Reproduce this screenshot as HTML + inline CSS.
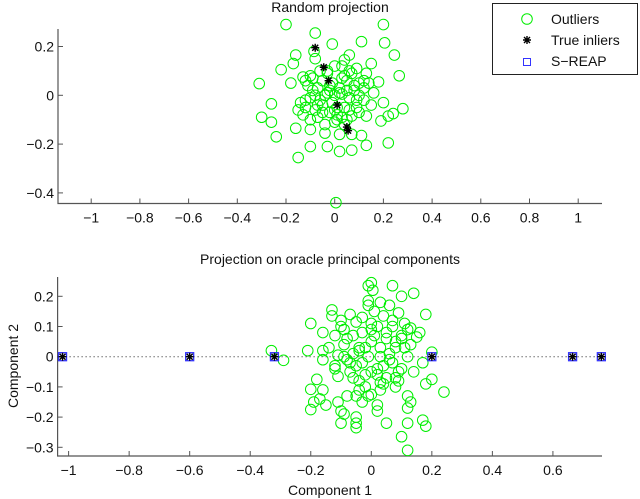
<!DOCTYPE html>
<html><head><meta charset="utf-8"><style>
html,body{margin:0;padding:0;background:#fff}
svg{display:block;font-family:"Liberation Sans",Arial,sans-serif}
</style></head><body>
<svg id="fig" width="640" height="499" viewBox="0 0 640 499" xmlns="http://www.w3.org/2000/svg">
<text x="330" y="12" font-size="14" text-anchor="middle" fill="#111">Random projection</text>
<text x="330" y="264" font-size="14" text-anchor="middle" fill="#111">Projection on oracle principal components</text>
<text x="330" y="495" font-size="14" text-anchor="middle" fill="#111">Component 1</text>
<text x="0" y="0" font-size="14" text-anchor="middle" fill="#111" transform="translate(18,366) rotate(-90)">Component 2</text>
<g id="top"></g>
<g id="bot"></g>
<g>
<rect x="492.5" y="3.5" width="145" height="71" fill="#fff" stroke="#222" stroke-width="1"/>
<g><circle cx="527" cy="19" r="5.3" fill="none" stroke="#00ee00"/><text x="551" y="24" font-size="14" fill="#111">Outliers</text></g>
<g><path d="M523 40H531M527 36V44M524 37L530 43M524 43L530 37" stroke="#000" stroke-width="1.4"/><text x="551" y="45" font-size="14" fill="#111">True inliers</text></g>
<g><rect x="523.5" y="58.5" width="7" height="7" fill="none" stroke="#3333ff"/><text x="551" y="66" font-size="14" fill="#111">S−REAP</text></g>
</g>
</svg>
<script>
const topXTicks=[-1,-0.8,-0.6,-0.4,-0.2,0,0.2,0.4,0.6,0.8,1];
const topXLabels=["−1","−0.8","−0.6","−0.4","−0.2","0","0.2","0.4","0.6","0.8","1"];
const topYTicks=[0.2,0,-0.2,-0.4];
const topYLabels=["0.2","0","−0.2","−0.4"];
const topOutX=[-0.2,0.2,-0.08,-0.01,0.11,0.205,-0.085,0.245,-0.16,0.06,-0.08,0.15,-0.17,0.04,-0.06,0,0.03,0.09,0.13,-0.22,-0.1,-0.13,0.265,-0.31,-0.18,0.18,-0.12,0.1,0.14,0.05,-0.02,0.02,-0.07,0.08,0,0.03,-0.04,0.16,0.06,-0.1,-0.26,0.2,0.12,-0.05,0.04,-0.15,-0.12,-0.08,0.28,0.24,0.22,0.19,-0.3,-0.26,0.13,-0.02,0.01,0.07,-0.1,-0.16,-0.1,0.01,-0.04,-0.24,0.07,-0.04,0.02,0.11,-0.1,-0.03,0.02,0.07,0.13,0.22,-0.15,0.005,-0.03,-0.05,0.07,0.1,0.09,-0.07,-0.13,0.04,-0.09,0.03,-0.01,0.05,-0.06,0.12,-0.14,0.15,0,-0.03,0.06,-0.11,-0.05,0.02,0.08,-0.08,0.0,0.04,-0.02,0.1,-0.12,0.06,-0.04,0.01,0.09,-0.07,0.03,-0.01,0.12,-0.09,0.05,-0.03];
const topOutY=[0.29,0.29,0.255,0.21,0.22,0.215,0.18,0.165,0.165,0.165,0.15,0.13,0.13,0.145,0.1,0.12,0.12,0.11,0.09,0.105,0.08,0.075,0.08,0.048,0.05,0.055,0.06,0.05,0.05,0.06,0.04,0.03,0.03,0.02,0,0.005,0,0.01,-0.01,-0.01,-0.035,-0.03,-0.02,-0.04,-0.05,-0.06,-0.05,-0.06,-0.055,-0.075,-0.085,-0.105,-0.09,-0.11,-0.085,-0.07,-0.08,-0.085,-0.1,-0.135,-0.14,-0.1,-0.12,-0.17,-0.16,-0.155,-0.16,-0.165,-0.21,-0.21,-0.23,-0.225,-0.205,-0.195,-0.255,-0.44,0.09,0.06,0.09,0,-0.05,-0.09,-0.08,-0.12,0.02,0.07,-0.03,0.02,-0.02,0.03,-0.03,-0.04,-0.11,0.01,-0.06,0.04,-0.07,0.01,0.04,0.0,-0.06,0.08,0.02,-0.07,-0.02,0.1,0.0,-0.05,-0.02,-0.04,-0.09,0.05,0.06,0.07,-0.1,0.1];
const topInX=[-0.08,-0.045,-0.025,0.01,0.05,0.055];
const topInY=[0.195,0.115,0.06,-0.04,-0.13,-0.145];

const botXTicks=[-1,-0.8,-0.6,-0.4,-0.2,0,0.2,0.4,0.6];
const botXLabels=["−1","−0.8","−0.6","−0.4","−0.2","0","0.2","0.4","0.6"];
const botYTicks=[0.2,0.1,0,-0.1,-0.2,-0.3];
const botYLabels=["0.2","0.1","0","−0.1","−0.2","−0.3"];
const botOutX=[0,-0.01,0.07,0.005,0.14,0.1,-0.01,0.03,-0.01,0.06,-0.13,0.01,0.09,0.18,-0.13,-0.07,0.04,-0.1,-0.05,-0.2,0,0.11,0.07,0.02,-0.09,0.13,0.16,-0.16,-0.03,0.15,-0.12,-0.06,0.05,0.1,-0.14,0,-0.09,0.03,-0.33,-0.21,-0.16,0.08,0.2,-0.06,-0.11,0.12,0.03,-0.29,-0.16,-0.03,0.07,0.17,-0.12,0.1,-0.07,0,0.14,-0.02,-0.11,0.05,-0.18,0.2,0.09,0.18,-0.04,0.03,-0.2,-0.16,0.08,-0.02,-0.04,0.24,-0.05,-0.08,0,-0.17,0.12,-0.11,-0.19,0.13,-0.15,-0.03,0.02,0.12,-0.2,-0.1,0.02,-0.09,0.17,-0.05,-0.05,0.05,0.12,-0.1,0.18,-0.05,0.1,0.12,-0.02,0.04,-0.08,0.06,0.01,-0.04,0.09,-0.05,0.02,-0.01,0.05,-0.08,0.11,0.03,-0.06,0.08,-0.1,0.0,0.07,-0.03,0.13,-0.07,0.04,0.1,-0.12,0.02,0.06,-0.04,-0.01,0.08,-0.09,0.12];
const botOutY=[0.245,0.235,0.235,0.22,0.21,0.2,0.185,0.18,0.17,0.17,0.155,0.15,0.145,0.14,0.135,0.14,0.135,0.12,0.115,0.11,0.11,0.11,0.1,0.1,0.09,0.095,0.08,0.08,0.08,0.065,0.07,0.07,0.06,0.06,0.03,0.05,0.04,0.03,0.02,0.02,0.02,0.03,0.015,0.01,0.005,0,0,-0.012,-0.01,-0.02,-0.02,-0.02,-0.03,-0.04,-0.05,-0.05,-0.05,-0.06,-0.065,-0.07,-0.075,-0.075,-0.08,-0.09,-0.08,-0.085,-0.108,-0.11,-0.1,-0.1,-0.11,-0.117,-0.13,-0.13,-0.125,-0.14,-0.13,-0.15,-0.15,-0.15,-0.16,-0.15,-0.16,-0.17,-0.175,-0.18,-0.18,-0.19,-0.21,-0.2,-0.22,-0.22,-0.22,-0.22,-0.23,-0.235,-0.265,-0.31,0.03,-0.03,-0.01,0.01,0.07,0.03,-0.05,-0.03,-0.04,0,0.08,0.06,0.03,-0.11,-0.07,0.05,0.1,0.09,0.12,0.13,0.04,-0.02,-0.09,0.07,-0.04,-0.06,-0.01,0.02,-0.13,-0.07,0.0,0.09];
const botInX=[-1.02,-0.6,-0.32,0.2,0.665,0.76];
const botInY=[0,0,0,0,0,0];

const NS="http://www.w3.org/2000/svg";
function mk(parent,tag,attrs){const e=document.createElementNS(NS,tag);for(const k in attrs)e.setAttribute(k,attrs[k]);parent.appendChild(e);return e;}

function drawPlot(g,cfg){
  const sx=v=>cfg.x0+cfg.kx*v, sy=v=>cfg.y0-cfg.ky*v;
  const ax=mk(g,'path',{d:`M${cfg.left} ${cfg.top}V${cfg.bottom}H${cfg.right}`,fill:'none',stroke:'#555','stroke-width':1.2});
  
  
  cfg.xt.forEach((t,i)=>{
    const x=sx(t);
    const tk=mk(g,'line',{x1:x,x2:x,y1:cfg.bottom,y2:cfg.bottom-5,stroke:'#555'});
    
    
    const tl=mk(g,'text',{x:x,y:cfg.bottom+19,'font-size':14,'text-anchor':'middle',fill:'#111'});
    tl.textContent=cfg.xl[i];
    
    
  });
  cfg.yt.forEach((t,i)=>{
    const y=sy(t);
    const tk=mk(g,'line',{x1:cfg.left,x2:cfg.left+5,y1:y,y2:y,stroke:'#555'});
    
    
    const tl=mk(g,'text',{x:cfg.left-4,y:y+5,'font-size':14,'text-anchor':'end',fill:'#111'});
    tl.textContent=cfg.yl[i];
    
    
  });
  if(cfg.zeroLine){
    const zl=mk(g,'line',{x1:cfg.left,x2:cfg.right,y1:sy(0),y2:sy(0),stroke:'#222','stroke-dasharray':'1 3'});
    
    
  }
  cfg.ox.forEach((v,i)=>{
    const c=mk(g,'circle',{cx:sx(v),cy:sy(cfg.oy[i]),r:5.3,fill:'none',stroke:'#00ee00','stroke-width':1});
    
    
  });
  cfg.ix.forEach((v,i)=>{
    const x=sx(v),y=sy(cfg.iy[i]);
    if(cfg.squares){
      const s=mk(g,'rect',{x:x-4,y:y-4,width:8,height:8,fill:'none',stroke:'#3333ff','stroke-width':1.3});
      
      
    }
    const st=mk(g,'path',{d:`M${x-4} ${y}H${x+4}M${x} ${y-4}V${y+4}M${x-3} ${y-3}L${x+3} ${y+3}M${x-3} ${y+3}L${x+3} ${y-3}`,stroke:'#000','stroke-width':1.4});
    
    
  });
}
drawPlot(document.getElementById('top'),{left:58,right:602,top:29,bottom:203.5,x0:334.7,kx:243.5,y0:95.3,ky:244,
  xt:topXTicks,xl:topXLabels,yt:topYTicks,yl:topYLabels,ox:topOutX,oy:topOutY,ix:topInX,iy:topInY,squares:false,zeroLine:false});
drawPlot(document.getElementById('bot'),{left:57.6,right:602,top:277,bottom:456,x0:371.3,kx:302.7,y0:356.7,ky:302,
  xt:botXTicks,xl:botXLabels,yt:botYTicks,yl:botYLabels,ox:botOutX,oy:botOutY,ix:botInX,iy:botInY,squares:true,zeroLine:true});
</script>
</body></html>
